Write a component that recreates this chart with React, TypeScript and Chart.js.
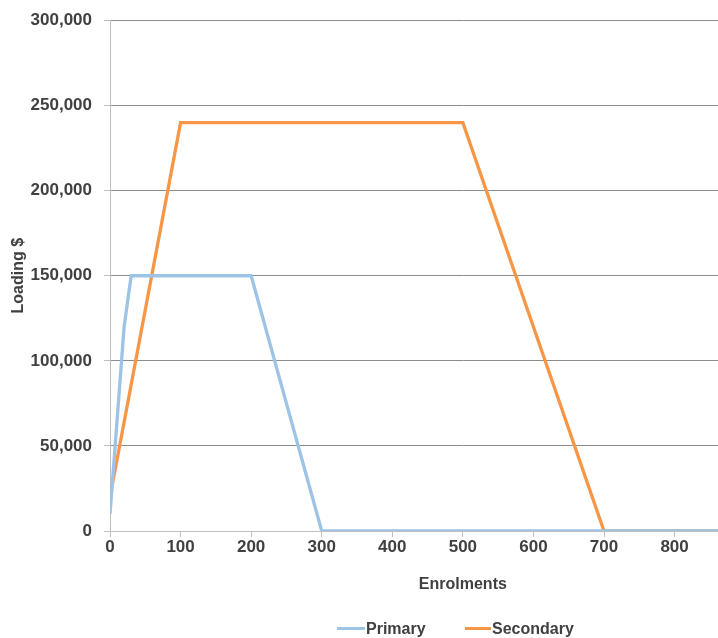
import React, { useEffect, useRef } from "react";
import { Chart, registerables } from "chart.js";

Chart.register(...registerables);

const primaryX = [0, 20, 30, 200, 300, 1000];
const primaryY = [10000, 120000, 150000, 150000, 0, 0];

const secondaryX = [0, 100, 500, 700, 1000];
const secondaryY = [20000, 240000, 240000, 0, 0];

const seriesNames = ["Primary", "Secondary"];
const seriesColors = ["#9DC3E6", "#F79646"];

const xTitle = "Enrolments";
const yTitle = "Loading $";
const yMax = 300000;
const yStep = 50000;
const xMax = 1000;
const xStep = 100;

const FONT = "'Liberation Sans', Arial, sans-serif";
const TEXT = "#404040";

export default function App() {
  const ref = useRef<HTMLCanvasElement | null>(null);

  useEffect(() => {
    document.body.style.margin = "0";
    const ctx = ref.current;
    if (!ctx) return;
    const chart = new Chart(ctx, {
      type: "line",
      data: {
        datasets: [
          {
            label: seriesNames[0],
            data: primaryX.map((x, i) => ({ x, y: primaryY[i] })),
            borderColor: seriesColors[0],
            backgroundColor: seriesColors[0],
            borderWidth: 3.3,
            pointRadius: 0,
            tension: 0,
          },
          {
            label: seriesNames[1],
            data: secondaryX.map((x, i) => ({ x, y: secondaryY[i] })),
            borderColor: seriesColors[1],
            backgroundColor: seriesColors[1],
            borderWidth: 3.3,
            pointRadius: 0,
            tension: 0,
          },
        ],
      },
      options: {
        animation: false,
        responsive: false,
        maintainAspectRatio: false,
        layout: { padding: { top: 19, left: 0, right: 15, bottom: 0 } },
        plugins: { legend: { display: false }, tooltip: { enabled: false } },
        scales: {
          x: {
            type: "linear",
            min: 0,
            max: xMax,
            ticks: {
              stepSize: xStep,
              color: TEXT,
              font: { family: FONT, size: 17, weight: "bold" },
              padding: 0,
              maxRotation: 0,
            },
            grid: {
              drawOnChartArea: false,
              drawTicks: true,
              tickLength: 6,
              tickColor: "#bfbfbf",
              color: "#bfbfbf",
            },
            border: { color: "#bfbfbf", width: 1 },
            title: {
              display: true,
              text: xTitle,
              color: TEXT,
              font: { family: FONT, size: 16, weight: "bold" },
              padding: { top: 0, bottom: 44 },
            },
            afterFit: (scale: any) => {
              scale.height = 107;
            },
          },
          y: {
            min: 0,
            max: yMax,
            ticks: {
              stepSize: yStep,
              color: TEXT,
              font: { family: FONT, size: 17, weight: "bold", lineHeight: 1 },
              padding: 12,
              callback: (v: any) => Number(v).toLocaleString("en-US"),
            },
            grid: {
              color: "#8c8c8c",
              tickColor: "#bfbfbf",
              tickLength: 6,
              lineWidth: 1,
            },
            border: { color: "#bfbfbf", width: 1 },
            title: {
              display: true,
              text: yTitle,
              color: TEXT,
              font: { family: FONT, size: 16, weight: "bold" },
              padding: { top: 9, bottom: 0 },
            },
            afterFit: (scale: any) => {
              scale.width = 110;
            },
          },
        },
      },
    });
    return () => chart.destroy();
  }, []);

  const legendText: React.CSSProperties = {
    fontFamily: FONT,
    fontWeight: "bold",
    fontSize: 16,
    color: TEXT,
    position: "absolute",
    top: 619,
    lineHeight: "20px",
    whiteSpace: "nowrap",
  };
  const marker = (left: number, width: number, color: string): React.CSSProperties => ({
    position: "absolute",
    left,
    top: 627,
    width,
    height: 3,
    background: color,
  });

  return (
    <div style={{ position: "absolute", left: 0, top: 0, width: 718, height: 638, overflow: "hidden", background: "#fff" }}>
      <canvas ref={ref} width={837} height={638} style={{ width: 837, height: 638, display: "block" }} />
      <div style={marker(337, 28, seriesColors[0])} />
      <div style={{ ...legendText, left: 366 }}>{seriesNames[0]}</div>
      <div style={marker(465, 26, seriesColors[1])} />
      <div style={{ ...legendText, left: 492 }}>{seriesNames[1]}</div>
    </div>
  );
}
